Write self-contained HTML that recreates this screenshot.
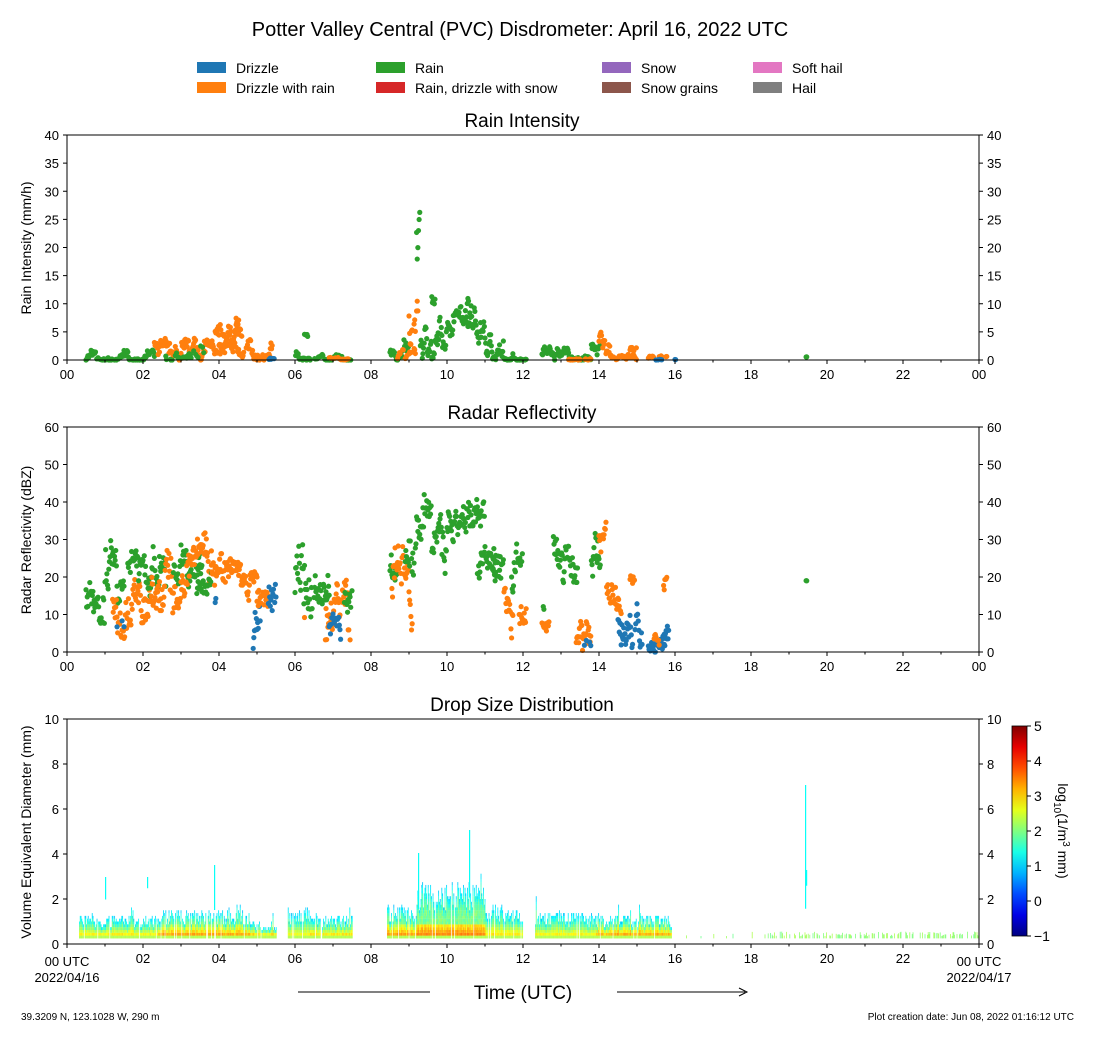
<!DOCTYPE html>
<html><head><meta charset="utf-8"><style>
body{margin:0;background:#fff;}
svg{display:block;font-family:"Liberation Sans","DejaVu Sans",sans-serif;}
</style></head><body>
<svg id="s" width="1094" height="1042" xmlns="http://www.w3.org/2000/svg">
<rect width="1094" height="1042" fill="#fff"/>
<text x="520" y="36" font-size="20" text-anchor="middle">Potter Valley Central (PVC) Disdrometer: April 16, 2022 UTC</text>
<g font-size="14">
<rect x="197" y="62" width="29" height="11" fill="#1f77b4"/><text x="236" y="73">Drizzle</text>
<rect x="197" y="82" width="29" height="11" fill="#ff7f0e"/><text x="236" y="93">Drizzle with rain</text>
<rect x="376" y="62" width="29" height="11" fill="#2ca02c"/><text x="415" y="73">Rain</text>
<rect x="376" y="82" width="29" height="11" fill="#d62728"/><text x="415" y="93">Rain, drizzle with snow</text>
<rect x="602" y="62" width="29" height="11" fill="#9467bd"/><text x="641" y="73">Snow</text>
<rect x="602" y="82" width="29" height="11" fill="#8c564b"/><text x="641" y="93">Snow grains</text>
<rect x="753" y="62" width="29" height="11" fill="#e377c2"/><text x="792" y="73">Soft hail</text>
<rect x="753" y="82" width="29" height="11" fill="#7f7f7f"/><text x="792" y="93">Hail</text>
</g>
<text x="522" y="127" font-size="19" text-anchor="middle">Rain Intensity</text>
<text x="522" y="419" font-size="19" text-anchor="middle">Radar Reflectivity</text>
<text x="522" y="711" font-size="19" text-anchor="middle">Drop Size Distribution</text>
<text transform="translate(31,248) rotate(-90)" font-size="14" text-anchor="middle">Rain Intensity (mm/h)</text>
<text transform="translate(31,540) rotate(-90)" font-size="14" text-anchor="middle">Radar Reflectivity (dBZ)</text>
<text transform="translate(31,832) rotate(-90)" font-size="14" text-anchor="middle">Volume Equivalent Diameter (mm)</text>
<text x="523" y="999" font-size="19" text-anchor="middle">Time (UTC)</text>
<line x1="298" y1="992" x2="430" y2="992" stroke="#000"/>
<line x1="617" y1="992" x2="745" y2="992" stroke="#000"/>
<path d="M739,988 L747,992 L739,996" fill="none" stroke="#000"/>
<text x="21" y="1020" font-size="10">39.3209 N, 123.1028 W, 290 m</text>
<text x="1074" y="1020" font-size="10" text-anchor="end">Plot creation date: Jun 08, 2022 01:16:12 UTC</text>
<g id="dyn"></g>
</svg>
<script>
var NS="http://www.w3.org/2000/svg",G=document.getElementById('dyn');
function el(t,a,p){var e=document.createElementNS(NS,t);for(var k in a)e.setAttribute(k,a[k]);(p||G).appendChild(e);return e;}
function tx(x,y,s,anc,fs){var e=el('text',{x:x,y:y,'font-size':fs||13,'text-anchor':anc||'middle'});e.textContent=s;return e;}
var seed=7;function r(){seed=(seed*16807)%2147483647;return (seed-1)/2147483646;}
var X0=67,X1=979;function hx(h){return X0+h*38;}
var C={b:'#1f77b4',o:'#ff7f0e',g:'#2ca02c'};
function axes(top,ymax,step,right){
 var b=top+225;
 for(var v=0;v<=ymax;v+=step){var y=b-v/ymax*225;
  el('line',{x1:X0-4,y1:y,x2:X0,y2:y,stroke:'#000'});tx(X0-8,y+5,v,'end');
  if(right){el('line',{x1:X1,y1:y,x2:X1+4,y2:y,stroke:'#000'});tx(X1+8,y+5,v,'start');}
 }
 for(var h=0;h<=24;h++){var x=hx(h);el('line',{x1:x,y1:b,x2:x,y2:b+(h%2?2.5:4),stroke:'#000'});
  if(h%2==0&&!(top>700&&(h==0||h==24)))tx(x,b+19,(h%24<10?'0':'')+(h%24));}
 el('rect',{x:X0,y:top,width:X1-X0,height:225,fill:'none',stroke:'#000'});
}
function pts(top,ymax,segs){
 var b=top+225,g=el('g',{});
 segs.forEach(function(s){var w=r(),p=s[6]||1,j=Math.max(s[7]||0,(s[4]-s[3])*0.12);
  for(var t=s[0];t<s[1];t+=1/60){
   w+=(r()-0.5)*0.6;if(w<0)w=-w;if(w>1)w=2-w;
   if(r()>s[5])continue;
   var v=s[3]+(s[4]-s[3])*Math.pow(w,p)+(r()-0.5)*2*j;if(v<0)v=0;
   el('circle',{cx:hx(t),cy:b-v/ymax*225,r:2.6,fill:C[s[2]]},g);}});
}
pts(135,40,[
 [0.5,2.3,'g',0,1.8,0.9,2.5],[2.3,5.4,'o',0.2,3.5,0.9,1.8,0.4],[2.6,3.6,'g',0.2,3,0.6,2],
 [3.9,4.6,'o',2,6,0.9,1,0.5],[4.45,4.55,'o',5,8.3,0.9],[5.2,5.5,'b',0,1,0.4],
 [6,6.4,'g',0,3,0.8,2.5],[6.25,6.35,'g',2,5,0.9],[6.5,7.5,'g',0,1.2,0.7,2.5],[6.9,7.4,'o',0,0.5,0.5],
 [8.5,9.0,'g',0,3.5,0.8,2.5],[8.7,9.2,'o',0,2,0.6,2],[9.0,9.25,'o',2,10,0.7],
 [9.2,9.3,'g',8,26,1],[9.3,10,'g',0.5,8,1,1.5,0.8],[9.6,9.7,'g',9,13,0.8],[10,11,'g',3,9,1,1,1],[10.5,10.6,'g',9,13,0.8],
 [11,11.5,'g',0,5,1,1.5],[11.5,12.1,'g',0,1.5,0.9,2.5],[12.5,13.8,'g',0,2.2,0.9,2],[13.2,13.8,'o',0,0.6,0.5],
 [13.8,14.1,'g',0.5,3,0.9],[14,14.3,'o',0.5,5.5,0.9],[14.3,15,'o',0,1,0.8,2],[14.8,15,'o',0.5,2.2,0.6],
 [15.3,15.8,'o',0,0.7,0.6],[15.5,15.7,'b',0,0.3,0.3],[16,16.03,'b',0,0.1,1],[19.45,19.47,'g',0.5,0.6,1]
]);
axes(135,40,5,true);
pts(427,60,[
 [0.5,1.0,'g',10,20,1,1,3],[1.0,1.5,'g',14,28,1,1,3],[1.2,2.2,'o',5,18,1,1,3],[1.3,1.5,'b',3,8,0.3],
 [1.6,2.6,'g',14,26,0.9,1,3],[2.2,3.0,'o',12,26,1,1,3],[2.8,3.6,'g',17,28,0.9,1,2],[3.0,3.8,'o',17,30,1,1,3],
 [3.4,3.8,'g',16,23,0.7],[3.8,4.6,'o',20,30,1,1,3],[3.85,3.95,'b',11,14,0.5],[4.6,5.0,'o',15,21,1,1,2],
 [4.9,5.1,'b',0,16,1,1,2],[5.0,5.3,'o',12,20,1,1,2],[5.3,5.5,'b',0,17,1,1,2],
 [6.0,6.45,'g',10,33,1,1,3],[6.2,6.3,'o',4,12,0.4],[6.5,6.9,'g',13,25,1,1,3],[6.8,7.4,'o',5,18,1,1,3],[6.9,7.2,'b',0,10,0.8],
 [7.3,7.5,'g',9,23,0.9],[7.4,7.5,'o',3,10,0.4],
 [8.5,8.7,'g',20,30,1,1,3],[8.55,9.1,'o',8,26,1,1,3],[8.9,9.2,'g',16,28,0.8,1,3],
 [9.2,9.6,'g',30,42,1,1,3],[9.6,10,'g',22,34,1,1,3],[10,11,'g',30,38,1,1,3],[10.8,11.3,'g',22,33,1,1,3],
 [11.2,11.5,'g',17,28,1,1,3],[11.5,11.75,'o',6,18,1,1,3],[11.7,12,'g',16,27,1,1,3],[11.9,12.1,'o',3,11,1,1,2],
 [12.5,12.7,'o',6,14,0.9],[12.5,12.6,'g',10,15,0.5],[12.8,13.45,'g',17,28,1,1,3],
 [13.4,13.8,'o',2,15,1,1,3],[13.6,13.8,'b',1,8,0.4],[13.8,14.05,'g',20,30,1,1,3],[14.0,14.2,'o',20,33,1,1,3],
 [14.2,14.6,'o',11,17,1,1,2],[14.5,14.9,'b',2,15,1,1,2],[14.8,14.95,'o',15,20,0.9],[14.95,15.15,'b',0,16,1,1,2],
 [15.3,15.75,'b',0,5,1,1,1.5],[15.45,15.6,'o',2,7,0.6],[15.7,15.8,'o',12,21,1],[15.7,15.85,'b',0,12,1],
 [19.45,19.47,'g',19,19.1,1]
]);
axes(427,60,10,true);
function jet(v){var t=(v+1)/6;t=Math.max(0,Math.min(1,t));
 function c(x){return Math.round(255*Math.max(0,Math.min(1,1.5-Math.abs(x))));}
 return 'rgb('+c(4*t-3)+','+c(4*t-2)+','+c(4*t-1)+')';}
function prof(h){
 var segs=[[0.3,2.4,1.2,3.3],[2.4,4.8,1.4,3.8],[4.8,5.5,0.9,3.6],[5.8,6.4,1.5,3.1],[6.4,7.5,1.2,3.4],[8.4,9.2,1.6,3.8],[9.2,11,2.6,3.8],[11,12,1.6,3.3],[12.3,13.9,1.3,3.2],[13.9,15.9,1.2,3.8]];
 for(var i=0;i<segs.length;i++)if(h>=segs[i][0]&&h<segs[i][1])return segs[i];return null;}
var hg=el('g',{}),B=944,cw=0.8;
for(var px=X0;px<X1;px+=cw){var h=(px-X0)/38,p=prof(h);
 if(!p){ if(h>16&&r()<(h>18.3?0.45:0.06)){var dm=0.35+0.2*r();el('rect',{x:px,y:B-dm*22.5,width:cw,height:(dm-0.25)*22.5,fill:jet(1.9+0.4*r())},hg);} continue;}
 if(r()<0.08)continue;
 var mx=p[2]*(0.55+0.5*r());if(r()<0.05)mx+=1.0*r();
 for(var d=0.25;d<mx;d+=0.125){var f=(d-0.25)/Math.max(0.3,mx-0.25);
  var v=p[3]-0.3*r()-f*(p[3]-1.1);if(d<0.3)v=Math.min(v,2.3);if(d>0.8)v=Math.min(v,2.2-0.5*r());
  el('rect',{x:px,y:B-(d+0.125)*22.5,width:cw+0.05,height:2.9,fill:jet(v)},hg);}
}
[[105,877,2.5],[147,877,2],[214,865,3.5],[469,830,4.5],[418,853,4],[805,785,7],[806,870,2.2],[431,880,1.2]].forEach(function(a){el('rect',{x:a[0],y:a[1],width:1.2,height:(a[2]-1.5)*22.5,fill:jet(1.3)},hg);});
axes(719,10,2,false);
for(var v=0;v<=10;v+=2){var y=944-v*22.5;el('line',{x1:X1,y1:y,x2:X1+4,y2:y,stroke:'#000'});tx(X1+8,y+5,v,'start');}
tx(X0,966,'00 UTC');tx(X0,982,'2022/04/16');tx(X1,966,'00 UTC');tx(X1,982,'2022/04/17');
var defs=el('defs',{}),lg=el('linearGradient',{id:'jg',x1:0,y1:1,x2:0,y2:0},defs);
for(var i=0;i<=10;i++)el('stop',{offset:i/10,'stop-color':jet(-1+0.6*i)},lg);
el('rect',{x:1012,y:726,width:15,height:210,fill:'url(#jg)',stroke:'#000','stroke-width':0.8});
for(var v=-1;v<=5;v++){var y=936-(v+1)/6*210;el('line',{x1:1027,y1:y,x2:1031,y2:y,stroke:'#000'});tx(1034,y+5,v<0?'\u22121':v,'start',14);}
var lt=el('text',{transform:'translate(1058,831) rotate(90)','font-size':14,'text-anchor':'middle'});
lt.innerHTML='log<tspan font-size="10" dy="4">10</tspan><tspan dy="-4">(1/m</tspan><tspan font-size="10" dy="-5">3</tspan><tspan dy="5"> mm)</tspan>';
</script>
</body></html>
